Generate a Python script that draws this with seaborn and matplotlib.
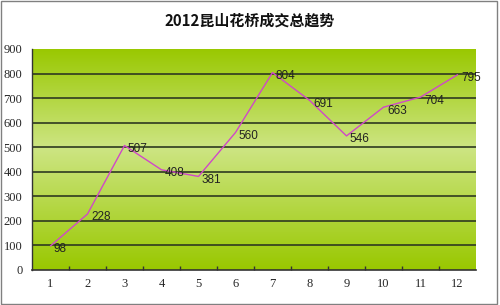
import numpy as np
import pandas as pd
import seaborn as sns
import matplotlib
matplotlib.use("Agg")
import matplotlib.pyplot as plt
from matplotlib.colors import LinearSegmentedColormap
from matplotlib.patches import Rectangle

months = [1, 2, 3, 4, 5, 6, 7, 8, 9, 10, 11, 12]
volumes = [98, 228, 507, 408, 381, 560, 804, 691, 546, 663, 704, 795]
y_ticks = [0, 100, 200, 300, 400, 500, 600, 700, 800, 900]
title = "2012昆山花桥成交总趋势"

sns.set_theme(style="white")
plt.rcParams['font.family'] = ['Noto Sans CJK SC', 'DejaVu Sans']

fig = plt.figure(figsize=(5.0, 3.05), dpi=100)
fig.patch.set_facecolor("white")
ax = fig.add_axes([0.064, 0.1148, 0.888, 0.7246])

# gradient background
cmap = LinearSegmentedColormap.from_list(
    "g", [(0.0, "#99c800"), (0.55, "#cde583"), (1.0, "#99c800")])
grad = np.linspace(0, 1, 256).reshape(-1, 1)
ax.imshow(grad, aspect="auto", cmap=cmap, origin="lower",
          extent=[0.5, 12.5, 0, 900], zorder=0)

df = pd.DataFrame({"month": months, "volume": volumes})
sns.lineplot(data=df, x="month", y="volume", ax=ax, color="#d048c8",
             linewidth=1.0, zorder=3)

for m, v in zip(months, volumes):
    ax.annotate(str(v), (m, v), xytext=(2.5, -2.5), textcoords="offset points",
                ha="left", va="center", fontsize=8.5, color="#222222",
                family=["Liberation Sans", "DejaVu Sans"], zorder=4)

ax.set_xlim(0.5, 12.5)
ax.set_ylim(0, 900)
for t in y_ticks[1:-1]:
    ax.axhline(t, color="#2e3a20", linewidth=1.2, zorder=2)

ax.set_yticks(y_ticks)
ax.set_yticklabels([str(t) for t in y_ticks],
                   family=["Liberation Serif", "DejaVu Serif"], fontsize=9)
ax.set_xticks(months)
ax.set_xticklabels([str(m) for m in months],
                   family=["Liberation Serif", "DejaVu Serif"], fontsize=9)
ax.set_xticks(np.arange(1.5, 12.5, 1.0), minor=True)
ax.tick_params(axis="x", which="major", length=0, pad=6)
ax.tick_params(axis="x", which="minor", direction="in", length=3,
               width=1, color="#333333", bottom=True)
ax.tick_params(axis="y", length=0, pad=7)
ax.set_xlabel("")
ax.set_ylabel("")

for s in ["top", "right"]:
    ax.spines[s].set_visible(False)
ax.spines["left"].set_color("#333333")
ax.spines["bottom"].set_color("#333333")
ax.spines["left"].set_linewidth(1.0)
ax.spines["bottom"].set_linewidth(1.2)

fig.text(0.5, 0.934, title, ha="center", va="center", fontsize=10.8,
         fontweight="bold", color="#111111")

fig.patches.append(Rectangle((0.001, 0.004), 0.993, 0.993,
                             transform=fig.transFigure, fill=False,
                             edgecolor="#808080", linewidth=1.0))

fig.savefig("out.png", dpi=100)
